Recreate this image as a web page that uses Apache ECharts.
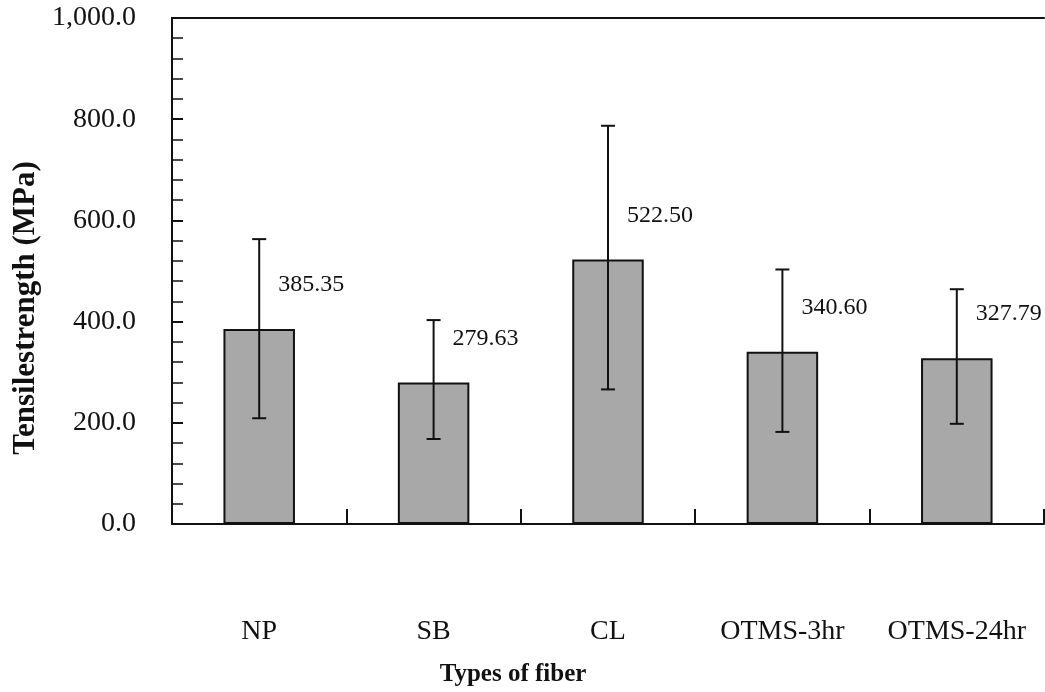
<!DOCTYPE html>
<html>
<head>
<meta charset="utf-8">
<script src="https://cdn.jsdelivr.net/npm/echarts@6/dist/echarts.min.js"></script>
<style>
  html, body { margin: 0; padding: 0; background: #fff; }
  #chart { width: 1045px; height: 692px; }
</style>
</head>
<body>
<div id="chart"></div>
<script>
// Fiber types and mean tensile strength (MPa)
const categories = ['NP', 'SB', 'CL', 'OTMS-3hr', 'OTMS-24hr'];
const meanStrength = [385.35, 279.63, 522.50, 340.60, 327.79];
// Lower / upper ends of the error bars (MPa)
const errLow = [209, 168, 266, 182, 198];
const errHigh = [563, 403, 787, 503, 464];
// Y axis scale
const yMin = 0;
const yMax = 1000;
const yStep = 200;

const serif = '"Liberation Serif", "DejaVu Serif", serif';

function fmtTick(v) {
  const s = v.toFixed(1);
  const [i, d] = s.split('.');
  return i.replace(/\B(?=(\d{3})+(?!\d))/g, ',') + '.' + d;
}

const chart = echarts.init(document.getElementById('chart'), null, { renderer: 'canvas' });

const errorData = categories.map((c, i) => [i, errLow[i], errHigh[i]]);

chart.setOption({
  animation: false,
  backgroundColor: '#ffffff',
  grid: { left: 172, top: 18, right: 1, bottom: 163, containLabel: false },
  xAxis: [
    {
      type: 'category',
      data: categories,
      axisLine: { show: true, lineStyle: { color: '#111', width: 2 } },
      axisTick: { show: true, inside: true, interval: 0, length: 15, alignWithLabel: false, lineStyle: { color: '#111', width: 2 } },
      axisLabel: { interval: 0, hideOverlap: false, margin: 94, fontFamily: serif, fontSize: 28, color: '#111' },
      name: 'Types of fiber',
      nameLocation: 'middle',
      nameGap: 138,
      nameTextStyle: { fontFamily: serif, fontSize: 25, fontWeight: 'bold', color: '#111', padding: [0, 190, 0, 0] },
      splitLine: { show: false }
    },
    {
      type: 'category',
      data: categories,
      position: 'top',
      axisLine: { show: true, lineStyle: { color: '#111', width: 2 } },
      axisTick: { show: false },
      axisLabel: { show: false },
      splitLine: { show: false }
    }
  ],
  yAxis: {
    type: 'value',
    min: yMin,
    max: yMax,
    interval: yStep,
    axisLine: { show: true, lineStyle: { color: '#111', width: 2 } },
    axisTick: { show: true, inside: true, length: 11, lineStyle: { color: '#111', width: 2 } },
    minorTick: { show: true, splitNumber: 5, length: 11, lineStyle: { color: '#111', width: 1.5 } },
    axisLabel: { margin: 36, fontFamily: serif, fontSize: 28, color: '#111', formatter: fmtTick },
    splitLine: { show: false },
    name: 'Tensilestrength (MPa)',
    nameLocation: 'middle',
    nameGap: 126,
    nameRotate: 90,
    nameTextStyle: { fontFamily: serif, fontSize: 31, fontWeight: 'bold', color: '#111', padding: [0, 74, 0, 0] }
  },
  series: [
    {
      type: 'bar',
      data: meanStrength,
      barWidth: '41%',
      itemStyle: { color: '#a8a8a8', borderColor: '#111', borderWidth: 2 },
      label: {
        show: true,
        position: ['50%', 0],
        offset: [19, -44],
        align: 'left',
        verticalAlign: 'middle',
        fontFamily: serif,
        fontSize: 24,
        color: '#111',
        formatter: p => p.value.toFixed(2)
      },
      z: 2
    },
    {
      type: 'custom',
      data: errorData,
      z: 5,
      renderItem: function (params, api) {
        const x = api.value(0);
        const lo = api.coord([x, api.value(1)]);
        const hi = api.coord([x, api.value(2)]);
        const cap = 7;
        const style = { stroke: '#111', lineWidth: 2 };
        return {
          type: 'group',
          children: [
            { type: 'line', shape: { x1: hi[0], y1: hi[1], x2: lo[0], y2: lo[1] }, style },
            { type: 'line', shape: { x1: hi[0] - cap, y1: hi[1], x2: hi[0] + cap, y2: hi[1] }, style },
            { type: 'line', shape: { x1: lo[0] - cap, y1: lo[1], x2: lo[0] + cap, y2: lo[1] }, style }
          ]
        };
      }
    }
  ]
});
</script>
</body>
</html>
